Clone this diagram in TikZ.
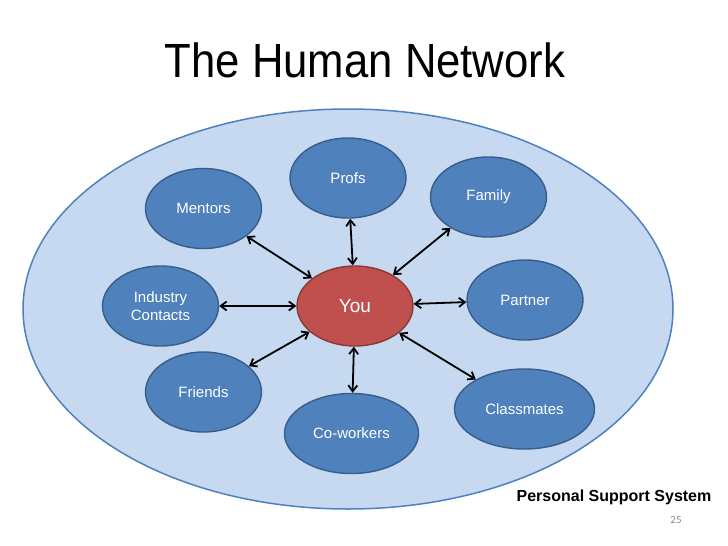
\documentclass[tikz,border=0pt]{standalone}
\usepackage{fontspec}
\usepackage{graphicx}
\setmainfont{Liberation Sans}
\newfontfamily\numfont{Carlito}
\usetikzlibrary{shapes.geometric,arrows.meta}
\definecolor{bigfill}{RGB}{198,217,240}
\definecolor{bigline}{RGB}{79,129,189}
\definecolor{nodefill}{RGB}{79,129,189}
\definecolor{nodeline}{RGB}{56,93,138}
\definecolor{youfill}{RGB}{192,80,77}
\definecolor{youline}{RGB}{140,56,54}
\definecolor{numgray}{RGB}{137,137,137}
\tikzset{
  member/.style={ellipse, draw=nodeline, fill=nodefill, line width=1.4pt,
    inner sep=0pt, minimum width=116pt, minimum height=80pt,
    text=white, align=center, font=\fontsize{15}{18}\selectfont},
  center/.style={member, draw=youline, fill=youfill, font=\fontsize{19}{22}\selectfont},
  link/.style={line width=1.8pt, black,
    {Straight Barb[length=6pt,width=9pt]}-{Straight Barb[length=6pt,width=9pt]}}
}
\begin{document}
\begin{tikzpicture}[x=1pt,y=-1pt]
\useasboundingbox (0,0) rectangle (728,546);
% title
\node (title) at (365,60) {\scalebox{0.91}[1]{\fontsize{48}{56}\selectfont The Human Network}};
% big ellipse
\node[ellipse, draw=bigline, fill=bigfill, line width=1.5pt, inner sep=0pt,
  minimum width=650pt, minimum height=400pt] (support) at (348,309) {};
% nodes
\node[center] (you) at (355,306) {You};
\node[member] (profs) at (348,178) {Profs};
\node[member] (mentors) at (203.5,208.5) {Mentors};
\node[member] (family) at (488.5,197) {Family};
\node[member] (industry) at (160.5,306) {Industry\\Contacts};
\node[member] (partner) at (525,300) {Partner};
\node[member] (friends) at (203.5,392) {Friends};
\node[member, minimum width=134pt] (coworkers) at (351.5,433.5) {Co-workers};
\node[member, minimum width=140pt] (classmates) at (524.5,409) {Classmates};
% links
\draw[link] (mentors) -- (you);
\draw[link] (profs) -- (you);
\draw[link] (family) -- (you);
\draw[link] (industry) -- (you);
\draw[link] (partner) -- (you);
\draw[link] (friends) -- (you);
\draw[link] (coworkers) -- (you);
\draw[link] (classmates) -- (you);
% captions
\node (caption) at (614,497) {\fontsize{16}{19}\selectfont\bfseries Personal Support System};
\node[text=numgray] (pagenum) at (676,520) {\numfont\fontsize{11}{13}\selectfont 25};
\end{tikzpicture}
\end{document}
